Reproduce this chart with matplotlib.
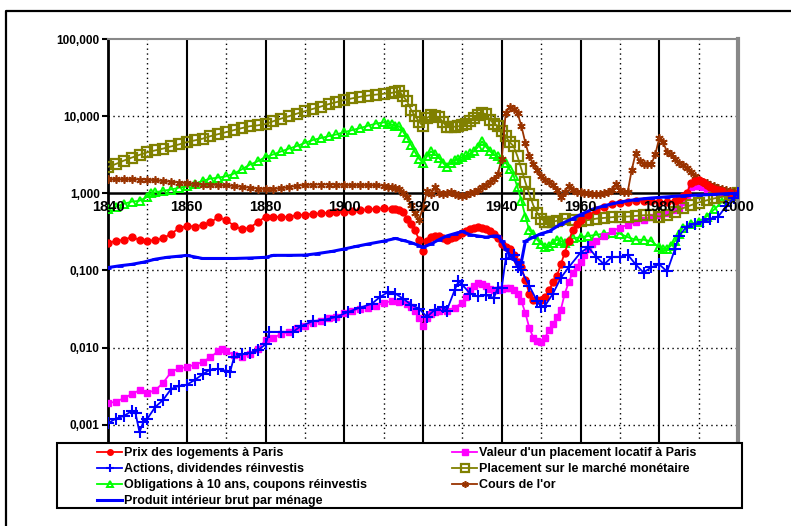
import matplotlib
matplotlib.use("Agg")
import matplotlib.pyplot as plt
import matplotlib.ticker as ticker
from matplotlib.lines import Line2D
from matplotlib.patches import Rectangle

plt.rcParams['font.family'] = ['Liberation Sans', 'DejaVu Sans']

# Prix des logements a Paris (base 1 en 2000)
logement_years = [1840, 1842, 1844, 1846, 1848, 1850, 1852, 1854, 1856, 1858, 1860, 1862, 1864, 1866,
                  1868, 1870, 1872, 1874, 1876, 1878, 1880, 1882, 1884, 1886, 1888, 1890, 1892, 1894,
                  1896, 1898, 1900, 1902, 1904, 1906, 1908, 1910, 1912, 1913, 1914, 1915, 1916, 1917,
                  1918, 1919, 1920, 1921, 1922, 1923, 1924, 1925, 1926, 1927, 1928, 1929, 1930, 1931,
                  1932, 1933, 1934, 1935, 1936, 1937, 1938, 1939, 1940, 1941, 1942, 1943, 1944, 1945,
                  1946, 1947, 1948, 1949, 1950, 1951, 1952, 1953, 1954, 1955, 1956, 1957, 1958, 1959,
                  1960, 1962, 1964, 1966, 1968, 1970, 1972, 1974, 1976, 1978, 1980, 1982, 1984, 1985,
                  1986, 1987, 1988, 1989, 1990, 1991, 1992, 1993, 1994, 1995, 1996, 1998, 2000]
logement = [0.23, 0.24, 0.25, 0.27, 0.25, 0.24, 0.25, 0.26, 0.30, 0.35, 0.38, 0.37, 0.39, 0.42,
            0.49, 0.45, 0.38, 0.34, 0.36, 0.42, 0.50, 0.50, 0.49, 0.50, 0.52, 0.53, 0.54, 0.55,
            0.56, 0.57, 0.58, 0.59, 0.60, 0.62, 0.63, 0.64, 0.63, 0.62, 0.60, 0.58, 0.46, 0.40,
            0.33, 0.25, 0.18, 0.24, 0.27, 0.28, 0.28, 0.26, 0.25, 0.26, 0.27, 0.29, 0.31, 0.32,
            0.34, 0.36, 0.37, 0.36, 0.34, 0.32, 0.30, 0.26, 0.22, 0.20, 0.19, 0.16, 0.13, 0.11,
            0.075, 0.05, 0.042, 0.041, 0.041, 0.045, 0.055, 0.07, 0.085, 0.12, 0.17, 0.24, 0.33, 0.40,
            0.45, 0.52, 0.60, 0.67, 0.72, 0.75, 0.78, 0.80, 0.80, 0.80, 0.78, 0.77, 0.80, 0.85,
            0.92, 1.0, 1.35, 1.45, 1.5, 1.42, 1.3, 1.2, 1.14, 1.1, 1.07, 1.02, 1.0]

# Valeur d'un placement locatif a Paris
locatif_years = [1840, 1842, 1844, 1846, 1848, 1850, 1852, 1854, 1856, 1858, 1860, 1862, 1864, 1866,
                 1868, 1869, 1870, 1872, 1874, 1876, 1878, 1880, 1882, 1884, 1886, 1888, 1890, 1892,
                 1894, 1896, 1898, 1900, 1902, 1904, 1906, 1908, 1910, 1912, 1914, 1916, 1917, 1918,
                 1919, 1920, 1921, 1922, 1923, 1924, 1926, 1928, 1930, 1931, 1932, 1933, 1934, 1935,
                 1936, 1937, 1938, 1939, 1940, 1941, 1942, 1943, 1944, 1945, 1946, 1947, 1948, 1949,
                 1950, 1951, 1952, 1953, 1954, 1955, 1956, 1957, 1958, 1959, 1960, 1961, 1962, 1963,
                 1964, 1966, 1968, 1970, 1972, 1974, 1976, 1978, 1980, 1982, 1984, 1985, 1986, 1987,
                 1988, 1989, 1990, 1991, 1992, 1994, 1996, 1998, 2000]
locatif = [0.0019, 0.002, 0.0022, 0.0025, 0.0028, 0.0026, 0.0028, 0.0035, 0.0048, 0.0054, 0.0056,
           0.006, 0.0065, 0.0075, 0.009, 0.0095, 0.009, 0.008, 0.0076, 0.0082, 0.0095, 0.0125,
           0.0135, 0.015, 0.016, 0.018, 0.019, 0.021, 0.022, 0.024, 0.025, 0.028, 0.030, 0.032,
           0.033, 0.035, 0.038, 0.040, 0.039, 0.037, 0.034, 0.030, 0.024, 0.019, 0.024, 0.027,
           0.029, 0.030, 0.030, 0.033, 0.038, 0.045, 0.055, 0.062, 0.068, 0.066, 0.062, 0.058,
           0.055, 0.055, 0.058, 0.06, 0.06, 0.056, 0.05, 0.04, 0.028, 0.018, 0.0135, 0.0122,
           0.012, 0.0135, 0.017, 0.02, 0.025, 0.031, 0.05, 0.07, 0.094, 0.11, 0.127, 0.16, 0.19,
           0.22, 0.24, 0.28, 0.32, 0.36, 0.39, 0.42, 0.45, 0.49, 0.52, 0.55, 0.60, 0.65, 0.78,
           0.95, 1.2, 1.25, 1.25, 1.2, 1.15, 1.05, 1.02, 1.0, 1.0]

# Actions, dividendes reinvestis
actions_years = [1840, 1842, 1844, 1846, 1847, 1848, 1849, 1850, 1852, 1854, 1856, 1858, 1860, 1862,
                 1864, 1866, 1868, 1870, 1871, 1872, 1874, 1876, 1878, 1880, 1881, 1884, 1887, 1889,
                 1892, 1895, 1898, 1901, 1904, 1907, 1909, 1911, 1913, 1915, 1917, 1919, 1921, 1923,
                 1925, 1926, 1928, 1929, 1930, 1932, 1934, 1936, 1938, 1939, 1940, 1941, 1943, 1944,
                 1945, 1947, 1949, 1950, 1951, 1953, 1955, 1957, 1960, 1962, 1964, 1966, 1968, 1970,
                 1972, 1974, 1976, 1978, 1980, 1982, 1984, 1985, 1987, 1989, 1991, 1993, 1995, 1997,
                 1999, 2000]
actions = [0.00105, 0.0012, 0.0013, 0.0015, 0.0014, 0.0008, 0.0011, 0.0012, 0.0017, 0.0021,
           0.0029, 0.0032, 0.0033, 0.0038, 0.0045, 0.0052, 0.0053, 0.005, 0.0048, 0.0075, 0.0082,
           0.0085, 0.0092, 0.011, 0.016, 0.016, 0.016, 0.019, 0.022, 0.023, 0.025, 0.029, 0.033,
           0.037, 0.045, 0.052, 0.05, 0.043, 0.036, 0.032, 0.025, 0.031, 0.034, 0.030, 0.055, 0.072,
           0.065, 0.05, 0.046, 0.048, 0.044, 0.06, 0.06, 0.14, 0.16, 0.11, 0.10, 0.063, 0.04, 0.034,
           0.035, 0.05, 0.08, 0.11, 0.17, 0.2, 0.15, 0.12, 0.15, 0.15, 0.16, 0.12, 0.094, 0.11,
           0.12, 0.097, 0.19, 0.28, 0.37, 0.4, 0.43, 0.47, 0.5, 0.68, 0.88, 1.0]

# Placement sur le marche monetaire
monetaire_years = [1840, 1842, 1844, 1846, 1848, 1850, 1852, 1854, 1856, 1858, 1860, 1862, 1864,
                   1866, 1868, 1870, 1872, 1874, 1876, 1878, 1880, 1882, 1884, 1886, 1888, 1890,
                   1892, 1894, 1896, 1898, 1900, 1902, 1904, 1906, 1908, 1910, 1912, 1913, 1914,
                   1915, 1916, 1917, 1918, 1919, 1920, 1921, 1922, 1923, 1924, 1925, 1926, 1927,
                   1928, 1929, 1930, 1931, 1932, 1933, 1934, 1935, 1936, 1937, 1938, 1939, 1940,
                   1941, 1942, 1943, 1944, 1945, 1946, 1947, 1948, 1949, 1950, 1951, 1952, 1953,
                   1954, 1956, 1958, 1960, 1962, 1964, 1966, 1968, 1970, 1972, 1974, 1976, 1978,
                   1980, 1982, 1984, 1986, 1988, 1990, 1992, 1994, 1996, 1998, 2000]
monetaire = [2.2, 2.4, 2.65, 2.9, 3.15, 3.4, 3.6, 3.8, 4.05, 4.3, 4.6, 4.85, 5.1, 5.5, 5.85, 6.2,
             6.6, 7.0, 7.4, 7.6, 7.9, 8.6, 9.3, 10.0, 10.8, 11.6, 12.4, 13.3, 14.3, 15.2, 16.2,
             17.0, 17.8, 18.5, 19.0, 19.5, 20.0, 20.5, 21.0, 18.0, 15.5, 12.0, 10.0, 8.5, 7.4, 9.5,
             10.2, 10.0, 9.7, 8.5, 7.3, 7.2, 7.3, 7.4, 7.6, 8.0, 8.6, 9.5, 10.5, 11.0, 10.6, 9.0,
             8.0, 7.5, 6.5, 5.5, 4.6, 4.1, 3.0, 2.05, 1.39, 0.97, 0.7, 0.56, 0.47, 0.43, 0.42, 0.43,
             0.44, 0.47, 0.45, 0.44, 0.45, 0.47, 0.48, 0.49, 0.5, 0.5, 0.51, 0.52, 0.52, 0.5, 0.52,
             0.58, 0.64, 0.7, 0.76, 0.81, 0.86, 0.9, 0.96, 1.0]

# Obligations a 10 ans, coupons reinvestis
obligations_years = [1840, 1842, 1844, 1846, 1848, 1850, 1851, 1852, 1854, 1856, 1858, 1860, 1862,
                     1864, 1866, 1868, 1870, 1872, 1874, 1876, 1878, 1880, 1882, 1884, 1886, 1888,
                     1890, 1892, 1894, 1896, 1898, 1900, 1902, 1904, 1906, 1908, 1910, 1911, 1912,
                     1913, 1914, 1915, 1916, 1917, 1918, 1919, 1920, 1921, 1922, 1923, 1924, 1925,
                     1926, 1927, 1928, 1929, 1930, 1931, 1932, 1933, 1934, 1935, 1936, 1937, 1938,
                     1939, 1940, 1941, 1942, 1943, 1944, 1945, 1946, 1947, 1948, 1949, 1950, 1951,
                     1952, 1953, 1954, 1955, 1956, 1957, 1958, 1960, 1962, 1964, 1966, 1968, 1970,
                     1972, 1974, 1976, 1978, 1980, 1981, 1982, 1983, 1984, 1985, 1986, 1988, 1990,
                     1992, 1994, 1996, 1998, 2000]
obligations = [0.62, 0.67, 0.73, 0.78, 0.8, 0.9, 1.0, 1.03, 1.08, 1.12, 1.18, 1.23, 1.33, 1.45,
               1.55, 1.6, 1.66, 1.8, 2.05, 2.35, 2.6, 2.95, 3.2, 3.5, 3.8, 4.1, 4.5, 4.9, 5.2, 5.5,
               5.8, 6.2, 6.6, 7.0, 7.5, 8.0, 8.3, 8.0, 7.8, 7.5, 7.4, 6.2, 5.2, 4.2, 3.4, 2.8, 2.5,
               3.0, 3.5, 3.2, 2.9, 2.5, 2.2, 2.5, 2.7, 2.8, 2.95, 3.1, 3.3, 3.5, 4.0, 4.7, 4.0, 3.5,
               3.2, 3.0, 2.8, 2.5, 2.05, 1.7, 1.2, 0.8, 0.5, 0.33, 0.3, 0.25, 0.22, 0.2, 0.21, 0.23,
               0.25, 0.24, 0.23, 0.24, 0.26, 0.27, 0.28, 0.29, 0.3, 0.31, 0.3, 0.27, 0.25, 0.25,
               0.24, 0.2, 0.19, 0.19, 0.21, 0.24, 0.3, 0.36, 0.4, 0.43, 0.5, 0.62, 0.78, 0.92, 1.0]

# Cours de l'or
or_years = [1840, 1842, 1844, 1846, 1848, 1850, 1852, 1854, 1856, 1858, 1860, 1862, 1864, 1866,
            1868, 1870, 1872, 1874, 1876, 1878, 1880, 1882, 1884, 1886, 1888, 1890, 1892, 1894,
            1896, 1898, 1900, 1902, 1904, 1906, 1908, 1910, 1911, 1912, 1913, 1914, 1915, 1916,
            1917, 1918, 1919, 1920, 1921, 1922, 1923, 1924, 1925, 1926, 1927, 1928, 1929, 1930,
            1931, 1932, 1933, 1934, 1935, 1936, 1937, 1938, 1939, 1940, 1941, 1942, 1943, 1944,
            1945, 1946, 1947, 1948, 1949, 1950, 1951, 1952, 1953, 1954, 1955, 1956, 1957, 1958,
            1959, 1960, 1961, 1962, 1963, 1964, 1965, 1966, 1967, 1968, 1969, 1970, 1971, 1972,
            1973, 1974, 1975, 1976, 1977, 1978, 1979, 1980, 1981, 1982, 1983, 1984, 1985, 1986,
            1987, 1988, 1989, 1990, 1991, 1992, 1993, 1994, 1995, 1996, 1997, 1998, 1999, 2000]
or_cours = [1.52, 1.52, 1.52, 1.52, 1.51, 1.50, 1.47, 1.44, 1.41, 1.38, 1.35, 1.32, 1.30, 1.29,
            1.28, 1.27, 1.24, 1.21, 1.18, 1.15, 1.13, 1.14, 1.16, 1.20, 1.25, 1.28, 1.29, 1.30,
            1.30, 1.29, 1.28, 1.28, 1.28, 1.28, 1.27, 1.26, 1.22, 1.20, 1.16, 1.13, 1.0, 0.89,
            0.70, 0.55, 0.45, 0.66, 1.06, 0.97, 1.2, 1.0, 0.97, 1.0, 1.03, 0.98, 0.95, 0.91,
            0.95, 1.0, 1.05, 1.1, 1.2, 1.3, 1.4, 1.55, 1.8, 2.8, 11.0, 13.0, 12.3, 11.0,
            7.4, 4.5, 3.0, 2.4, 2.0, 1.66, 1.5, 1.4, 1.3, 1.1, 0.9, 1.05, 1.23, 1.1,
            1.05, 1.03, 1.0, 1.0, 0.98, 0.97, 0.98, 1.0, 1.05, 1.1, 1.31, 1.1, 1.03, 1.05,
            2.0, 3.3, 2.6, 2.4, 2.4, 2.4, 3.2, 5.2, 4.6, 3.4, 3.2, 2.8, 2.5, 2.3,
            2.1, 1.9, 1.7, 1.5, 1.42, 1.35, 1.3, 1.25, 1.18, 1.13, 1.1, 1.07, 1.05, 1.03]

# Produit interieur brut par menage
pib_years = [1840, 1843, 1846, 1849, 1852, 1855, 1858, 1860, 1862, 1864, 1868, 1872, 1876, 1880,
             1882, 1886, 1890, 1893, 1897, 1900, 1903, 1906, 1910, 1913, 1915, 1917, 1919, 1920,
             1922, 1924, 1926, 1928, 1930, 1932, 1934, 1936, 1938, 1939, 1940, 1941, 1942, 1943,
             1944, 1945, 1946, 1948, 1950, 1952, 1955, 1958, 1960, 1963, 1966, 1970, 1974, 1978,
             1982, 1986, 1990, 1994, 1997, 2000]
pib = [0.109, 0.115, 0.12, 0.128, 0.14, 0.148, 0.153, 0.157, 0.15, 0.143, 0.143, 0.143, 0.145,
       0.148, 0.157, 0.157, 0.158, 0.165, 0.177, 0.19, 0.205, 0.22, 0.24, 0.26, 0.245, 0.23, 0.21,
       0.2, 0.22, 0.25, 0.28, 0.3, 0.32, 0.29, 0.28, 0.27, 0.28, 0.28, 0.24, 0.19, 0.16, 0.14,
       0.12, 0.13, 0.24, 0.27, 0.3, 0.32, 0.4, 0.47, 0.53, 0.62, 0.69, 0.77, 0.83, 0.87, 0.9,
       0.93, 0.95, 0.97, 0.99, 1.0]

x_labels = [1840, 1860, 1880, 1900, 1920, 1940, 1960, 1980, 2000]

fig = plt.figure(figsize=(7.91, 5.26), dpi=100)
ax = fig.add_axes([108 / 791, 1 - 448 / 526, 630 / 791, (448 - 39) / 526])

# outer frame (left and top edges visible)
fig.add_artist(Line2D([6 / 791, 6 / 791, 1.2], [-0.2, 1 - 11 / 526, 1 - 11 / 526],
                      transform=fig.transFigure, color='black', lw=1.6))

ax.set_yscale('log')
ax.set_xlim(1840, 2000)
ax.set_ylim(0.0005, 100)

# grid
for yr in range(1850, 2000, 20):
    ax.axvline(yr, color='black', lw=1.0, ls=(0, (1, 2.5)), zorder=1)
for yr in range(1860, 2000, 20):
    ax.axvline(yr, color='black', lw=1.5, zorder=1)
for v in [10, 0.1, 0.01, 0.001]:
    ax.axhline(v, color='black', lw=1.0, ls=(0, (1, 2.5)), zorder=1)
ax.axhline(1, color='black', lw=1.8, zorder=1)

h_log, = ax.plot(logement_years, logement, color='#FF0000', marker='o', ms=5, lw=1.3, zorder=5)
h_act, = ax.plot(actions_years, actions, color='#0000FF', marker='+', ms=8, mew=1.5, lw=1.3, zorder=6)
h_obl, = ax.plot(obligations_years, obligations, color='#00FF00', marker='^', ms=6, mfc='none',
                 mew=1.4, lw=1.3, zorder=4)
h_pib, = ax.plot(pib_years, pib, color='#0000FF', marker='_', ms=5, mew=2, lw=2.2, zorder=5)
h_loc, = ax.plot(locatif_years, locatif, color='#FF00FF', marker='s', ms=5, lw=1.3, zorder=4)
h_mon, = ax.plot(monetaire_years, monetaire, color='#808000', marker='s', ms=6.5, mfc='none',
                 mew=1.6, lw=1.3, zorder=4)
h_or, = ax.plot(or_years, or_cours, color='#993300', marker=(6, 2, 0), ms=6, mew=1.2, lw=1.3, zorder=4)

# axes styling
ax.spines['left'].set_linewidth(2)
ax.spines['left'].set_color('black')
ax.spines['top'].set_color('#888888')
ax.spines['top'].set_linewidth(1.5)
ax.spines['right'].set_color('#888888')
ax.spines['right'].set_linewidth(3)
ax.spines['bottom'].set_visible(False)

ax.yaxis.set_major_locator(ticker.FixedLocator([0.001, 0.01, 0.1, 1, 10, 100]))
ax.yaxis.set_minor_locator(ticker.NullLocator())
ax.yaxis.set_major_formatter(ticker.FuncFormatter(lambda v, _: f"{v:.3f}".replace('.', ',')))
ax.tick_params(axis='y', length=4, width=1.5, direction='out', pad=2, labelsize=8.5)
for lab in ax.get_yticklabels():
    lab.set_fontweight('bold')
ax.xaxis.set_major_locator(ticker.NullLocator())
ax.xaxis.set_minor_locator(ticker.NullLocator())

# year labels sit just under the unit line
for yr in x_labels:
    ax.annotate(str(yr), xy=(yr, 1), xytext=(0, -5), textcoords='offset points',
                ha='center', va='top', fontsize=10.5, fontweight='bold',
                annotation_clip=False, zorder=7)

# legend box with two columns of entries
fig.add_artist(Rectangle((57 / 791, 1 - 508 / 526), 685 / 791, 65 / 526, transform=fig.transFigure,
                         facecolor='white', edgecolor='black', lw=1.5, zorder=19))
leg_kw = dict(loc='upper left', frameon=False, prop={'weight': 'bold', 'size': 9},
              handlelength=2.0, handletextpad=0.15, labelspacing=0.33, borderpad=0,
              borderaxespad=0, markerscale=0.8)
leg1 = fig.legend([h_log, h_act, h_obl, h_pib],
                  ['Prix des logements à Paris', 'Actions, dividendes réinvestis',
                   'Obligations à 10 ans, coupons réinvestis', 'Produit intérieur brut par ménage'],
                  bbox_to_anchor=(97 / 791, 1 - 447 / 526), **leg_kw)
leg2 = fig.legend([h_loc, h_mon, h_or],
                  ["Valeur d'un placement locatif à Paris", 'Placement sur le marché monétaire',
                   "Cours de l'or"],
                  bbox_to_anchor=(452 / 791, 1 - 447 / 526), **leg_kw)
leg1.set_zorder(20)
leg2.set_zorder(20)

fig.savefig('out.png', dpi=100)
